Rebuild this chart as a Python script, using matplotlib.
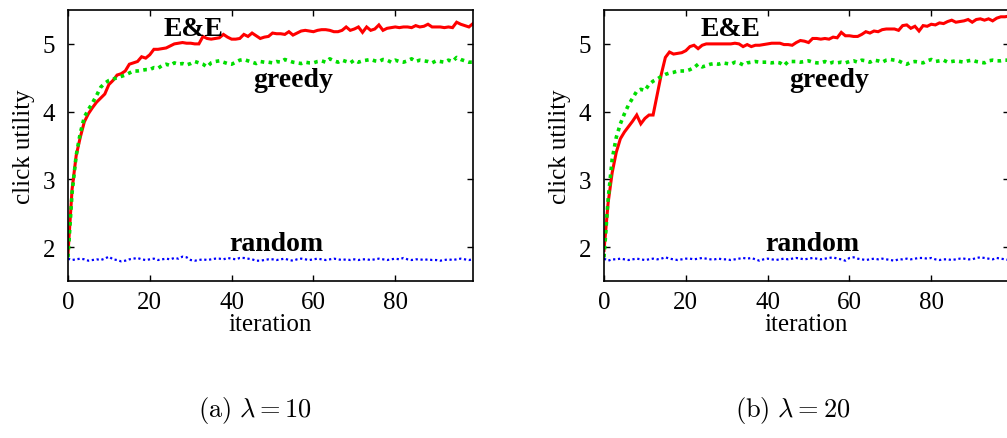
import numpy as np
import matplotlib
matplotlib.use("Agg")
import matplotlib.pyplot as plt

plt.rcParams['font.family'] = ['Liberation Serif', 'DejaVu Serif']
plt.rcParams['mathtext.fontset'] = 'cm'

iterations = list(range(100))

# panel (a): lambda = 10
ee_a = [1.90, 2.85, 3.35, 3.62, 3.85, 3.97, 4.06, 4.14, 4.20, 4.26,
        4.40, 4.46, 4.54, 4.56, 4.60, 4.70, 4.72, 4.74, 4.81, 4.79,
        4.84, 4.92, 4.92, 4.93, 4.94, 4.97, 5.00, 5.01, 5.02, 5.01,
        5.01, 5.00, 5.00, 5.11, 5.08, 5.07, 5.08, 5.09, 5.14, 5.10,
        5.07, 5.07, 5.08, 5.14, 5.11, 5.16, 5.12, 5.08, 5.10, 5.11,
        5.16, 5.15, 5.15, 5.14, 5.18, 5.13, 5.16, 5.19, 5.20, 5.19,
        5.18, 5.20, 5.21, 5.21, 5.20, 5.18, 5.18, 5.20, 5.25, 5.20,
        5.22, 5.25, 5.17, 5.25, 5.20, 5.22, 5.28, 5.20, 5.23, 5.24,
        5.25, 5.24, 5.25, 5.25, 5.24, 5.27, 5.25, 5.26, 5.29, 5.25,
        5.25, 5.25, 5.24, 5.25, 5.24, 5.32, 5.29, 5.27, 5.25, 5.30]
greedy_a = [1.85, 2.80, 3.35, 3.68, 3.92, 4.03, 4.13, 4.24, 4.36, 4.42,
            4.46, 4.48, 4.50, 4.52, 4.54, 4.57, 4.60, 4.60, 4.61, 4.62,
            4.62, 4.65, 4.64, 4.68, 4.70, 4.68, 4.72, 4.70, 4.71, 4.69,
            4.71, 4.74, 4.72, 4.70, 4.66, 4.72, 4.74, 4.75, 4.73, 4.71,
            4.70, 4.73, 4.76, 4.77, 4.75, 4.73, 4.71, 4.74, 4.73, 4.73,
            4.72, 4.74, 4.73, 4.77, 4.75, 4.73, 4.72, 4.71, 4.73, 4.72,
            4.72, 4.74, 4.75, 4.73, 4.78, 4.75, 4.73, 4.76, 4.74, 4.72,
            4.76, 4.73, 4.75, 4.76, 4.77, 4.75, 4.74, 4.77, 4.76, 4.73,
            4.76, 4.74, 4.73, 4.75, 4.78, 4.74, 4.76, 4.75, 4.74, 4.72,
            4.75, 4.74, 4.73, 4.76, 4.74, 4.80, 4.77, 4.75, 4.73, 4.73]
random_a = [1.83, 1.81, 1.82, 1.83, 1.82, 1.80, 1.81, 1.82, 1.81, 1.83,
            1.86, 1.82, 1.81, 1.79, 1.80, 1.82, 1.83, 1.84, 1.82, 1.81,
            1.82, 1.83, 1.81, 1.82, 1.83, 1.82, 1.84, 1.83, 1.86, 1.85,
            1.81, 1.80, 1.81, 1.82, 1.81, 1.82, 1.83, 1.83, 1.82, 1.84,
            1.83, 1.82, 1.84, 1.84, 1.83, 1.82, 1.80, 1.80, 1.81, 1.82,
            1.82, 1.81, 1.82, 1.83, 1.81, 1.80, 1.82, 1.83, 1.82, 1.81,
            1.82, 1.83, 1.82, 1.81, 1.82, 1.83, 1.82, 1.81, 1.82, 1.81,
            1.82, 1.81, 1.82, 1.82, 1.81, 1.82, 1.83, 1.82, 1.81, 1.82,
            1.83, 1.82, 1.84, 1.82, 1.81, 1.82, 1.82, 1.81, 1.82, 1.81,
            1.81, 1.80, 1.81, 1.82, 1.81, 1.82, 1.83, 1.82, 1.81, 1.82]

# panel (b): lambda = 20
ee_b = [1.95, 2.65, 3.10, 3.40, 3.60, 3.70, 3.78, 3.86, 3.95, 3.82,
        3.90, 3.95, 3.95, 4.25, 4.55, 4.80, 4.88, 4.85, 4.86, 4.87,
        4.90, 4.96, 4.98, 4.93, 4.98, 5.00, 5.00, 5.00, 5.00, 5.00,
        5.00, 5.00, 5.01, 5.00, 4.96, 4.99, 4.96, 4.98, 4.98, 4.99,
        5.00, 5.01, 5.01, 5.01, 4.99, 4.99, 4.98, 5.02, 5.05, 5.04,
        5.02, 5.08, 5.08, 5.07, 5.08, 5.07, 5.10, 5.09, 5.17, 5.12,
        5.12, 5.11, 5.11, 5.14, 5.18, 5.16, 5.19, 5.18, 5.21, 5.22,
        5.22, 5.22, 5.20, 5.27, 5.28, 5.23, 5.26, 5.19, 5.27, 5.26,
        5.29, 5.28, 5.31, 5.30, 5.33, 5.35, 5.32, 5.33, 5.34, 5.36,
        5.32, 5.36, 5.37, 5.35, 5.37, 5.34, 5.38, 5.40, 5.40, 5.41]
greedy_b = [1.85, 2.70, 3.30, 3.62, 3.82, 3.97, 4.10, 4.20, 4.30, 4.33,
            4.31, 4.40, 4.45, 4.48, 4.52, 4.55, 4.57, 4.58, 4.60, 4.60,
            4.60, 4.62, 4.65, 4.70, 4.66, 4.68, 4.70, 4.71, 4.70, 4.72,
            4.71, 4.70, 4.73, 4.72, 4.69, 4.72, 4.73, 4.74, 4.73, 4.73,
            4.73, 4.72, 4.73, 4.72, 4.68, 4.74, 4.74, 4.74, 4.73, 4.74,
            4.75, 4.73, 4.72, 4.72, 4.74, 4.71, 4.73, 4.72, 4.73, 4.72,
            4.74, 4.75, 4.73, 4.76, 4.75, 4.73, 4.76, 4.75, 4.73, 4.76,
            4.77, 4.76, 4.75, 4.72, 4.70, 4.73, 4.74, 4.73, 4.72, 4.75,
            4.77, 4.74, 4.75, 4.76, 4.73, 4.74, 4.75, 4.74, 4.73, 4.75,
            4.76, 4.74, 4.73, 4.72, 4.75, 4.76, 4.75, 4.75, 4.76, 4.76]
random_b = [1.83, 1.80, 1.82, 1.82, 1.83, 1.82, 1.81, 1.82, 1.83, 1.82,
            1.81, 1.82, 1.83, 1.82, 1.83, 1.85, 1.83, 1.82, 1.81, 1.82,
            1.83, 1.83, 1.82, 1.83, 1.84, 1.83, 1.82, 1.82, 1.83, 1.82,
            1.82, 1.81, 1.82, 1.83, 1.84, 1.83, 1.84, 1.82, 1.80, 1.82,
            1.83, 1.82, 1.81, 1.82, 1.83, 1.82, 1.83, 1.84, 1.83, 1.82,
            1.83, 1.84, 1.83, 1.82, 1.83, 1.84, 1.85, 1.83, 1.82, 1.80,
            1.84, 1.85, 1.83, 1.82, 1.81, 1.82, 1.83, 1.82, 1.83, 1.82,
            1.81, 1.80, 1.82, 1.82, 1.83, 1.82, 1.83, 1.84, 1.84, 1.83,
            1.84, 1.82, 1.81, 1.82, 1.82, 1.81, 1.82, 1.83, 1.83, 1.82,
            1.82, 1.84, 1.85, 1.84, 1.83, 1.82, 1.84, 1.83, 1.82, 1.81]

panels = [
    (0.0675, ee_a, greedy_a, random_a, r'$\mathrm{(a)}\ \lambda = 10$', 0.253),
    (0.5998, ee_b, greedy_b, random_b, r'$\mathrm{(b)}\ \lambda = 20$', 0.787),
]

fig = plt.figure(figsize=(10.07, 4.39), dpi=100)

for left, ee, greedy, rnd, caption, cx in panels:
    ax = fig.add_axes([left, 0.3576, 0.4022, 0.6173])
    ax.plot(iterations, ee, color='#ff0000', lw=2.2, solid_joinstyle='miter')
    ax.plot(iterations, greedy, color='#00dd00', lw=2.6, linestyle=(0, (1, 1.2)))
    ax.plot(iterations, rnd, color='#0000ff', lw=1.6, linestyle=(0, (1, 1.2)))
    ax.set_xlim(0, 99)
    ax.set_ylim(1.5, 5.5)
    ax.set_xticks([0, 20, 40, 60, 80])
    ax.set_yticks([2, 3, 4, 5])
    ax.tick_params(direction='in', length=4, width=1, top=True, right=True,
                   labelsize=18)
    ax.tick_params(axis='y', pad=9)
    ax.tick_params(axis='x', pad=7)
    for s in ax.spines.values():
        s.set_linewidth(1.2)
    ax.set_xlabel('iteration', fontsize=18, labelpad=0)
    ax.set_ylabel('click utility', fontsize=18, labelpad=6)
    ax.text(30.8, 5.22, 'E&E', fontsize=20, fontweight='bold', ha='center', va='center')
    ax.text(55, 4.48, 'greedy', fontsize=20, fontweight='bold', ha='center', va='center')
    ax.text(51, 2.05, 'random', fontsize=20, fontweight='bold', ha='center', va='center')
    fig.text(cx, 0.065, caption, fontsize=19, ha='center', va='center')

fig.savefig('out.png', dpi=100)
